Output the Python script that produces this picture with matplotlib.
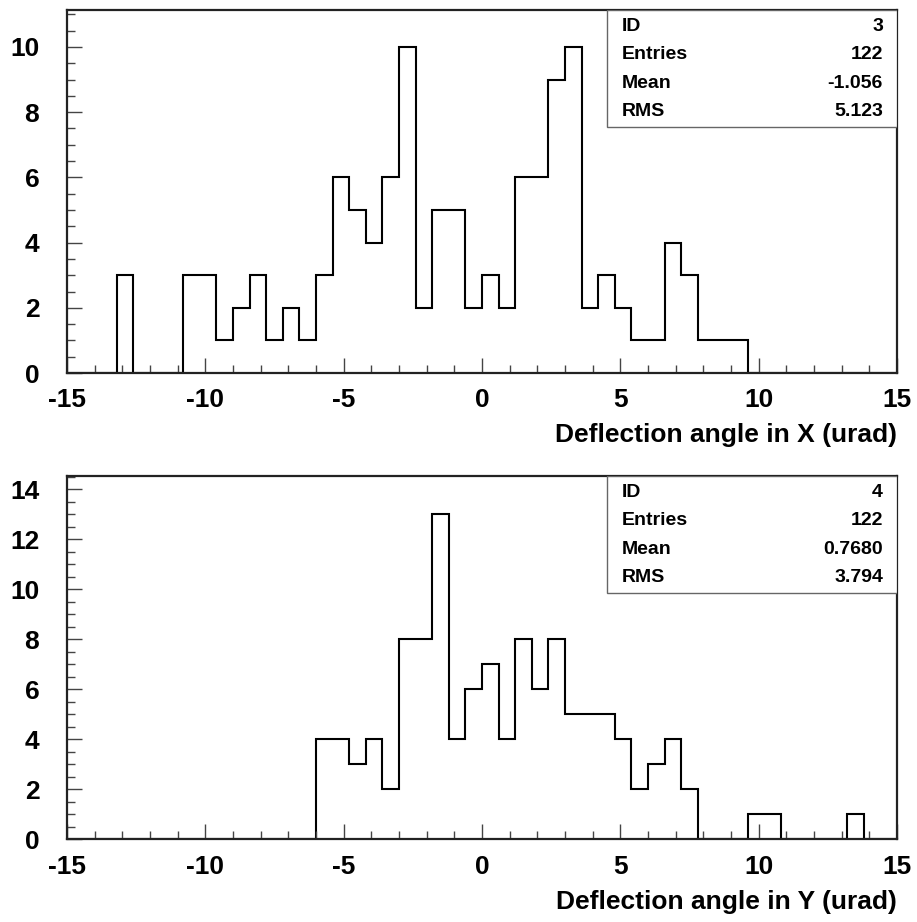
import numpy as np
import matplotlib
matplotlib.use("Agg")
import matplotlib.pyplot as plt
from matplotlib.patches import Rectangle
from matplotlib.ticker import MultipleLocator

# 50 bins from -15 to 15 (width 0.6)
bin_edges = np.linspace(-15, 15, 51)

# counts per bin
counts_x = [0, 0, 0, 3, 0, 0, 0, 3, 3, 1,
            2, 3, 1, 2, 1, 3, 6, 5, 4, 6,
            10, 2, 5, 5, 2, 3, 2, 6, 6, 9,
            10, 2, 3, 2, 1, 1, 4, 3, 1, 1,
            1, 0, 0, 0, 0, 0, 0, 0, 0, 0]
counts_y = [0, 0, 0, 0, 0, 0, 0, 0, 0, 0,
            0, 0, 0, 0, 0, 4, 4, 3, 4, 2,
            8, 8, 13, 4, 6, 7, 4, 8, 6, 8,
            5, 5, 5, 4, 2, 3, 4, 2, 0, 0,
            0, 1, 1, 0, 0, 0, 0, 1, 0, 0]

stats_x = [("ID", "3"), ("Entries", "122"), ("Mean", "-1.056"), ("RMS", "5.123")]
stats_y = [("ID", "4"), ("Entries", "122"), ("Mean", "0.7680"), ("RMS", "3.794")]

xlabels = ["Deflection angle in X (urad)", "Deflection angle in Y (urad)"]
ymaxes = [11.13, 14.55]

plt.rcParams['font.family'] = ['Liberation Sans', 'DejaVu Sans']
plt.rcParams['axes.unicode_minus'] = False

fig = plt.figure(figsize=(9.17, 9.22), dpi=100)
ax1 = fig.add_axes([0.0731, 0.5954, 0.9051, 0.3937])
ax2 = fig.add_axes([0.0731, 0.0897, 0.9051, 0.3944])

for ax, counts, stats, xl, ymax in zip([ax1, ax2], [counts_x, counts_y],
                                      [stats_x, stats_y], xlabels, ymaxes):
    ax.stairs(counts, bin_edges, color='black', lw=1.5)
    ax.set_xlim(-15, 15)
    ax.set_ylim(0, ymax)

    ax.xaxis.set_major_locator(MultipleLocator(5))
    ax.xaxis.set_minor_locator(MultipleLocator(1))
    ax.yaxis.set_major_locator(MultipleLocator(2))
    ax.yaxis.set_minor_locator(MultipleLocator(0.5))
    ax.tick_params(which='both', direction='in', top=False, right=False, color='#444444')
    ax.tick_params(which='major', length=11, width=1)
    ax.tick_params(which='minor', length=6, width=1)
    ax.tick_params(axis='x', which='major', pad=11)
    ax.tick_params(axis='y', which='major', pad=20)
    for lab in ax.get_xticklabels() + ax.get_yticklabels():
        lab.set_fontsize(19)
        lab.set_fontweight('bold')

    for sp in ax.spines.values():
        sp.set_linewidth(1.6)
        sp.set_color('#222222')

    ax.set_xlabel(xl, loc='right', fontsize=19, fontweight='bold', labelpad=8)

    # stats box
    ax.add_patch(Rectangle((0.65, 0.678), 0.35, 0.322, transform=ax.transAxes,
                           facecolor='white', edgecolor='#666666', lw=1, zorder=3))
    for (name, val), yy in zip(stats, [0.955, 0.878, 0.797, 0.72]):
        ax.text(0.668, yy, name, transform=ax.transAxes, fontsize=14,
                fontweight='bold', va='center', ha='left', zorder=4)
        ax.text(0.983, yy, val, transform=ax.transAxes, fontsize=14,
                fontweight='bold', va='center', ha='right', zorder=4)

fig.savefig("out.png", dpi=100)
